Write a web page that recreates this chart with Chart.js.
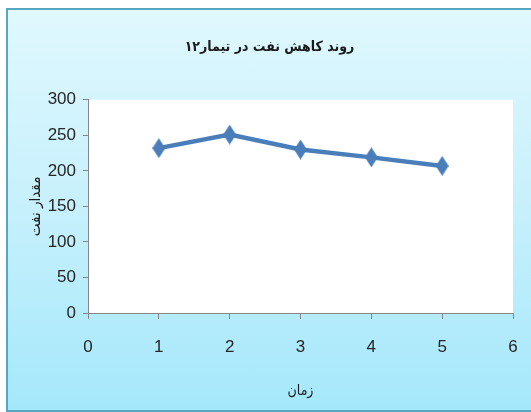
<!DOCTYPE html>
<html>
<head>
<meta charset="utf-8">
<script src="https://cdn.jsdelivr.net/npm/chart.js@4"></script>
<style>
  html, body { margin: 0; padding: 0; width: 531px; height: 412px; overflow: hidden; background: #ffffff; }
  #frame {
    position: absolute; left: 6px; top: 8px; width: 540px; height: 400px;
    border: 2px solid #55a7c2;
    background: linear-gradient(to bottom, #e0f8fe 0%, #c6f0fc 50%, #a5e8fb 100%);
  }
  #wrap { position: absolute; left: 0; top: 0; width: 531px; height: 412px; }
</style>
</head>
<body>
<div id="frame"></div>
<div id="wrap"><canvas id="chart" width="531" height="412"></canvas></div>
<script>
// Oil reduction over time, treatment 12
const times = [1, 2, 3, 4, 5];
const oilAmounts = [232, 251, 230, 219, 207];
const titleText = 'روند کاهش نفت در تیمار۱۲';
const xTitle = 'زمان';
const yTitle = 'مقدار نفت';

const lineColor = '#4a7ebb';
const axisColor = '#868686';
const tickFont = { family: '"Liberation Sans Narrow", "Arial Narrow", "Liberation Sans", sans-serif', size: 17 };
const arabicFont = '"DejaVu Sans Condensed", "DejaVu Sans", sans-serif';

// tall diamond marker
function diamondMarker(w, h, color) {
  const c = document.createElement('canvas');
  c.width = w; c.height = h;
  const g = c.getContext('2d');
  g.fillStyle = color;
  g.beginPath();
  g.moveTo(w / 2, 0);
  g.lineTo(w, h / 2);
  g.lineTo(w / 2, h);
  g.lineTo(0, h / 2);
  g.closePath();
  g.fill();
  return c;
}
const marker = diamondMarker(13, 20, lineColor);

// white plot area
const plotBackground = {
  id: 'plotBackground',
  beforeDraw(chart) {
    const { ctx, chartArea: a } = chart;
    ctx.save();
    ctx.fillStyle = '#ffffff';
    ctx.fillRect(a.left, a.top, a.right - a.left, a.bottom - a.top);
    ctx.restore();
  }
};

new Chart(document.getElementById('chart'), {
  type: 'line',
  data: {
    datasets: [{
      data: times.map((t, i) => ({ x: t, y: oilAmounts[i] })),
      borderColor: lineColor,
      borderWidth: 4.5,
      pointStyle: marker,
      pointRadius: 8,
      pointHoverRadius: 8,
      tension: 0,
      fill: false
    }]
  },
  options: {
    responsive: false,
    animation: false,
    events: [],
    layout: { padding: { left: 26, right: 18, top: 0, bottom: 0 } },
    plugins: {
      legend: { display: false },
      tooltip: { enabled: false },
      title: {
        display: true,
        text: titleText,
        color: '#1a1a1a',
        font: { family: arabicFont, size: 14, weight: 'bold' },
        padding: { top: 39, bottom: 44 }
      }
    },
    scales: {
      x: {
        type: 'linear',
        min: 0, max: 6,
        ticks: { stepSize: 1, color: '#262626', font: tickFont, padding: 18 },
        grid: { drawOnChartArea: false, drawTicks: true, tickLength: 6, color: axisColor },
        border: { display: true, color: axisColor, width: 1 },
        title: {
          display: true, text: xTitle, color: '#1a1a1a',
          font: { family: arabicFont, size: 14 },
          padding: { top: 0, bottom: 12 }
        },
        afterFit(scale) {
          scale.height = 99;
          scale.paddingLeft = 0;
          scale.paddingRight = 0;
        }
      },
      y: {
        min: 0, max: 300,
        ticks: { stepSize: 50, color: '#262626', font: tickFont, padding: 7 },
        grid: { drawOnChartArea: false, drawTicks: true, tickLength: 5, color: axisColor },
        border: { display: true, color: axisColor, width: 1 },
        title: {
          display: true, text: yTitle, color: '#1a1a1a',
          font: { family: arabicFont, size: 15, lineHeight: 1 },
          padding: { top: 3, bottom: 0 }
        },
        afterFit(scale) { scale.width = 62; }
      }
    }
  },
  plugins: [plotBackground]
});
</script>
</body>
</html>
